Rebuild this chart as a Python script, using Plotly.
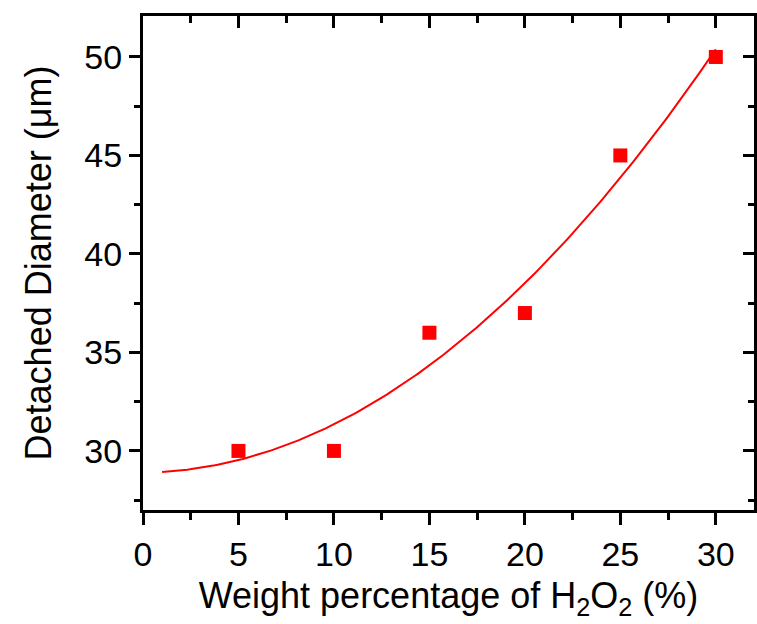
import numpy as np
import plotly.graph_objects as go

# Data
h2o2_wt = [5, 10, 15, 20, 25, 30]
diameter = [30, 30, 36, 37, 45, 50]
fit_x_start, fit_x_end = 1, 30
x_ticks = [0, 5, 10, 15, 20, 25, 30]
y_ticks = [30, 35, 40, 45, 50]

# quadratic least-squares fit of the data (the red line)
coef = np.polyfit(h2o2_wt, diameter, 2)
fx = np.linspace(fit_x_start, fit_x_end, 200)
fy = np.polyval(coef, fx)

RED = "#ff0000"
FONT = "Liberation Sans, Arial, sans-serif"
XR = [0, 32]
YR = [27, 52.08]

fig = go.Figure()
fig.add_trace(go.Scatter(x=fx, y=fy, mode="lines", line=dict(color=RED, width=2),
                         showlegend=False, hoverinfo="skip"))
fig.add_trace(go.Scatter(x=h2o2_wt, y=diameter, mode="markers",
                         marker=dict(symbol="square", size=14, color=RED),
                         showlegend=False))
# invisible trace to anchor mirrored axes
fig.add_trace(go.Scatter(x=[XR[0]], y=[YR[0]], xaxis="x2", yaxis="y2", mode="markers",
                         marker=dict(opacity=0), showlegend=False, hoverinfo="skip"))

common_tick = dict(tickwidth=3, tickcolor="black", showgrid=False, zeroline=False,
                   showline=True, linecolor="black", linewidth=3)

fig.update_layout(
    width=757, height=624,
    margin=dict(l=143, r=3, t=16, b=114),
    paper_bgcolor="white", plot_bgcolor="white",
    font=dict(family=FONT, color="black", size=34),
    xaxis=dict(range=XR, tickvals=x_ticks, ticks="outside", ticklen=12,
               minor=dict(dtick=2.5, tick0=0, ticks="outside", ticklen=7, tickwidth=3, tickcolor="black"),
               tickfont=dict(size=34, family=FONT), ticklabelstandoff=0,
               title=dict(text="Weight percentage of H<sub>2</sub>O<sub>2</sub> (%)",
                          font=dict(size=36, family=FONT), standoff=12),
               **common_tick),
    yaxis=dict(range=YR, tickvals=y_ticks, ticks="outside", ticklen=11,
               minor=dict(dtick=2.5, tick0=0, ticks="outside", ticklen=6, tickwidth=3, tickcolor="black"),
               tickfont=dict(size=34, family=FONT), ticklabelstandoff=0,
               title=dict(text="Detached Diameter (μm)", font=dict(size=36, family=FONT), standoff=22),
               **common_tick),
    xaxis2=dict(range=XR, overlaying="x", side="top", anchor="y2", tickvals=x_ticks,
                ticks="inside", ticklen=12, showticklabels=False,
                minor=dict(dtick=2.5, tick0=0, ticks="inside", ticklen=7, tickwidth=3, tickcolor="black"),
                **common_tick),
    yaxis2=dict(range=YR, overlaying="y", side="right", anchor="x2", tickvals=y_ticks,
                ticks="inside", ticklen=11, showticklabels=False,
                minor=dict(dtick=2.5, tick0=0, ticks="inside", ticklen=6, tickwidth=3, tickcolor="black"),
                **common_tick),
)

fig.write_html("out.html")
